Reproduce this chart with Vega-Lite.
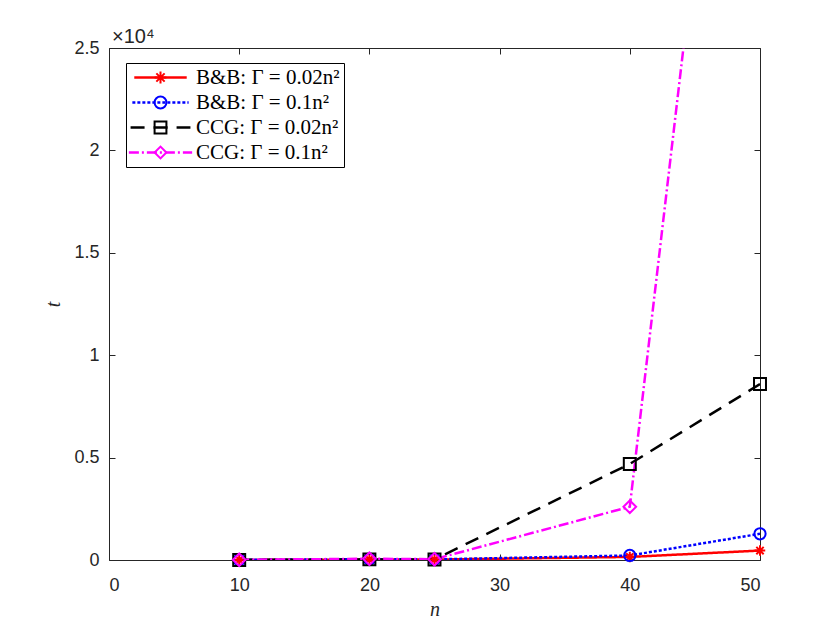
{
  "$schema": "https://vega.github.io/schema/vega-lite/v6.json",
  "width": 651,
  "height": 512,
  "autosize": "none",
  "padding": {"left": 109, "top": 48, "right": 80, "bottom": 70},
  "background": "white",
  "title": {
    "text": "×10⁴",
    "anchor": "start",
    "frame": "group",
    "offset": 5,
    "dx": 3,
    "dy": 13,
    "font": "Liberation Sans",
    "fontSize": 20,
    "fontWeight": "normal",
    "color": "#262626"
  },
  "config": {
    "view": {"stroke": null},
    "axis": {
      "grid": false,
      "domainColor": "#262626",
      "tickColor": "#262626",
      "labelColor": "#262626",
      "labelFont": "Liberation Sans",
      "labelFontSize": 18,
      "titleFont": "Liberation Serif",
      "titleFontStyle": "italic",
      "titleFontSize": 20,
      "titleFontWeight": "normal",
      "titleColor": "#262626",
      "tickSize": -6
    }
  },
  "data": {
    "values": [
      {"n": 10, "t": 3, "series": "B&B: Γ = 0.02n²"},
      {"n": 20, "t": 25, "series": "B&B: Γ = 0.02n²"},
      {"n": 25, "t": 20, "series": "B&B: Γ = 0.02n²"},
      {"n": 40, "t": 150, "series": "B&B: Γ = 0.02n²"},
      {"n": 50, "t": 460, "series": "B&B: Γ = 0.02n²"},
      {"n": 10, "t": 5, "series": "B&B: Γ = 0.1n²"},
      {"n": 20, "t": 40, "series": "B&B: Γ = 0.1n²"},
      {"n": 25, "t": 30, "series": "B&B: Γ = 0.1n²"},
      {"n": 40, "t": 220, "series": "B&B: Γ = 0.1n²"},
      {"n": 50, "t": 1280, "series": "B&B: Γ = 0.1n²"},
      {"n": 10, "t": 5, "series": "CCG: Γ = 0.02n²"},
      {"n": 20, "t": 30, "series": "CCG: Γ = 0.02n²"},
      {"n": 25, "t": 25, "series": "CCG: Γ = 0.02n²"},
      {"n": 40, "t": 4690, "series": "CCG: Γ = 0.02n²"},
      {"n": 50, "t": 8590, "series": "CCG: Γ = 0.02n²"},
      {"n": 10, "t": 10, "series": "CCG: Γ = 0.1n²"},
      {"n": 20, "t": 60, "series": "CCG: Γ = 0.1n²"},
      {"n": 25, "t": 40, "series": "CCG: Γ = 0.1n²"},
      {"n": 40, "t": 2600, "series": "CCG: Γ = 0.1n²"},
      {"n": 50, "t": 57000, "series": "CCG: Γ = 0.1n²"}
    ]
  },
  "layer": [
    {
      "mark": {"type": "line", "clip": true, "strokeWidth": 2.5},
      "encoding": {
        "x": {
          "field": "n", "type": "quantitative",
          "scale": {"domain": [0, 50], "nice": false},
          "axis": {"orient": "bottom", "values": [0, 10, 20, 30, 40, 50], "title": "n", "labelPadding": 22, "titlePadding": 5}
        },
        "y": {
          "field": "t", "type": "quantitative",
          "scale": {"domain": [0, 25000], "nice": false},
          "axis": {"orient": "left", "values": [0, 5000, 10000, 15000, 20000, 25000], "labelExpr": "datum.value / 10000 + ''", "title": "t", "labelPadding": 16, "titlePadding": 10}
        },
        "color": {
          "field": "series", "type": "nominal",
          "scale": {
            "domain": ["B&B: Γ = 0.02n²", "B&B: Γ = 0.1n²", "CCG: Γ = 0.02n²", "CCG: Γ = 0.1n²"],
            "range": ["#ff0000", "#0000ff", "#000000", "#ff00ff"]
          },
          "legend": {
            "orient": "none", "legendX": 17, "legendY": 15, "title": null,
            "symbolType": "M-5,0H5", "symbolSize": 300, "symbolStrokeWidth": 2.5, "symbolOffset": 20,
            "rowPadding": 3, "padding": 4, "labelOffset": 25,
            "labelFont": "Liberation Serif", "labelFontSize": 21, "labelColor": "#000000", "labelLimit": 400,
            "strokeColor": "#000000"
          }
        },
        "strokeDash": {
          "field": "series", "type": "nominal",
          "scale": {
            "domain": ["B&B: Γ = 0.02n²", "B&B: Γ = 0.1n²", "CCG: Γ = 0.02n²", "CCG: Γ = 0.1n²"],
            "range": [[1, 0], [3, 2], [14, 9], [10, 3, 2, 3]]
          },
          "legend": {
            "orient": "none", "legendX": 17, "legendY": 15, "title": null,
            "symbolType": "M-5,0H5", "symbolSize": 300, "symbolStrokeWidth": 2.5, "symbolOffset": 20,
            "rowPadding": 3, "padding": 4, "labelOffset": 25,
            "labelFont": "Liberation Serif", "labelFontSize": 21, "labelColor": "#000000", "labelLimit": 400,
            "strokeColor": "#000000"
          }
        }
      }
    },
    {
      "transform": [{"filter": "datum.t <= 25000"}],
      "mark": {"type": "point", "filled": false, "strokeWidth": 2, "opacity": 1},
      "encoding": {
        "x": {
          "field": "n", "type": "quantitative",
          "axis": {"orient": "top", "values": [0, 10, 20, 30, 40, 50], "labels": false, "title": null}
        },
        "y": {
          "field": "t", "type": "quantitative",
          "axis": {"orient": "right", "values": [0, 5000, 10000, 15000, 20000, 25000], "labels": false, "title": null}
        },
        "stroke": {
          "field": "series", "type": "nominal",
          "scale": {
            "domain": ["B&B: Γ = 0.02n²", "B&B: Γ = 0.1n²", "CCG: Γ = 0.02n²", "CCG: Γ = 0.1n²", "_"],
            "range": ["#ff0000", "#0000ff", "#000000", "#ff00ff", "#000000"]
          },
          "legend": {
            "orient": "none", "legendX": 17, "legendY": 15, "title": null,
            "values": ["B&B: Γ = 0.02n²", "B&B: Γ = 0.1n²", "CCG: Γ = 0.02n²", "CCG: Γ = 0.1n²"],
            "symbolSize": 140, "symbolStrokeWidth": 2, "symbolOffset": 20,
            "rowPadding": 3, "padding": 4,
            "labelFontSize": 21, "labelExpr": "''"
          }
        },
        "shape": {
          "field": "series", "type": "nominal",
          "scale": {
            "domain": ["B&B: Γ = 0.02n²", "B&B: Γ = 0.1n²", "CCG: Γ = 0.02n²", "CCG: Γ = 0.1n²", "_"],
            "range": ["M0,-1L0,1M-1,0L1,0M-0.7,-0.7L0.7,0.7M-0.7,0.7L0.7,-0.7", "circle", "square", "diamond", "circle"]
          },
          "legend": {
            "orient": "none", "legendX": 17, "legendY": 15, "title": null,
            "values": ["B&B: Γ = 0.02n²", "B&B: Γ = 0.1n²", "CCG: Γ = 0.02n²", "CCG: Γ = 0.1n²"],
            "symbolSize": 140, "symbolStrokeWidth": 2, "symbolOffset": 20,
            "rowPadding": 3, "padding": 4,
            "labelFontSize": 21, "labelExpr": "''"
          }
        },
        "size": {
          "field": "series", "type": "nominal",
          "scale": {
            "domain": ["B&B: Γ = 0.02n²", "B&B: Γ = 0.1n²", "CCG: Γ = 0.02n²", "CCG: Γ = 0.1n²"],
            "range": [110, 160, 50, 260]
          },
          "legend": null
        }
      }
    }
  ],
  "resolve": {
    "axis": {"x": "independent", "y": "independent"}
  }
}
